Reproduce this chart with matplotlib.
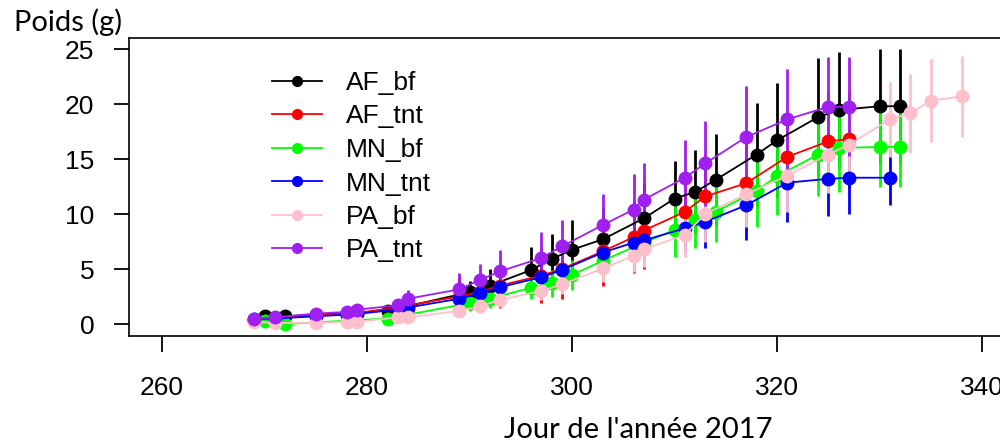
import numpy as np
import matplotlib.pyplot as plt
from matplotlib.lines import Line2D

# jours d'echantillonnage (deux calendriers)
jours_a = [270, 272, 282, 290, 292, 296, 298, 300, 303, 307, 310, 312, 314, 318, 320, 324, 326, 330, 332]
jours_b = [269, 271, 275, 278, 279, 283, 284, 289, 291, 293, 297, 299, 303, 306, 307, 311, 313, 317, 321, 325, 327]
jours_mn_tnt = jours_b + [331]
jours_pa_bf = jours_b + [331, 333, 335, 338]

# poids moyens (g) et ecarts-types
af_bf = [0.7, 0.7, 1.2, 2.9, 3.5, 4.9, 5.9, 6.75, 7.7, 9.6, 11.4, 12.0, 13.1, 15.4, 16.7, 18.8, 19.45, 19.8, 19.8]
af_bf_sd = [0.3, 0.3, 0.4, 1.0, 1.5, 2.1, 2.3, 2.7, 2.9, 3.2, 3.4, 3.8, 4.2, 4.7, 5.2, 5.4, 5.3, 5.2, 5.2]

af_tnt = [0.4, 0.55, 0.8, 0.95, 1.0, 1.5, 1.7, 2.5, 2.9, 3.5, 4.4, 5.0, 6.6, 7.9, 8.5, 10.2, 11.6, 12.8, 15.2, 16.6, 16.8]
af_tnt_sd = [0.2, 0.2, 0.3, 0.4, 0.4, 0.6, 0.7, 1.8, 1.7, 2.0, 2.5, 2.7, 3.1, 3.3, 3.5, 3.6, 3.8, 4.0, 4.2, 4.4, 4.4]

mn_bf = [0.3, 0.0, 0.5, 1.9, 2.3, 3.3, 3.7, 4.45, 5.75, 7.4, 8.55, 9.5, 10.2, 12.1, 13.45, 15.4, 16.0, 16.1, 16.1]
mn_bf_sd = [0.2, 0.3, 0.4, 0.7, 0.8, 1.0, 1.2, 1.4, 1.8, 2.2, 2.45, 2.6, 2.7, 3.25, 3.5, 3.8, 4.0, 3.6, 3.6]

mn_tnt = [0.45, 0.5, 0.7, 0.85, 0.9, 1.35, 1.5, 2.3, 2.8, 3.35, 4.25, 4.9, 6.5, 7.4, 7.6, 8.7, 9.3, 10.8, 12.85, 13.2, 13.3, 13.3]
mn_tnt_sd = [0.1, 0.1, 0.2, 0.2, 0.2, 0.3, 0.4, 0.6, 0.7, 0.8, 1.0, 1.2, 1.5, 1.8, 1.9, 2.1, 2.4, 3.2, 3.55, 3.4, 3.3, 2.5]

pa_bf = [0.2, 0.1, 0.1, 0.2, 0.2, 0.6, 0.6, 1.2, 1.6, 2.2, 3.0, 3.6, 5.05, 6.2, 6.8, 8.1, 10.0, 11.8, 13.5, 15.4, 16.3, 18.6, 19.15, 20.3, 20.7]
pa_bf_sd = [0.1, 0.1, 0.1, 0.1, 0.1, 0.2, 0.2, 0.4, 0.5, 0.6, 0.8, 0.9, 1.2, 1.45, 1.6, 2.0, 2.5, 3.0, 3.3, 3.5, 3.6, 3.4, 3.6, 3.75, 3.7]

pa_tnt = [0.5, 0.6, 0.95, 1.1, 1.3, 1.7, 2.3, 3.15, 4.0, 4.8, 6.0, 7.05, 9.0, 10.4, 11.3, 13.3, 14.6, 17.0, 18.6, 19.75, 19.75]
pa_tnt_sd = [0.15, 0.15, 0.2, 0.3, 0.3, 0.5, 0.8, 1.45, 1.5, 1.9, 2.4, 2.4, 2.8, 3.2, 3.3, 3.4, 3.9, 4.6, 4.6, 4.5, 4.5]

noms = ["AF_bf", "AF_tnt", "MN_bf", "MN_tnt", "PA_bf", "PA_tnt"]
couleurs = ["black", "#FF0000", "#00FF00", "#0000FF", "#FFC0CB", "#A020F0"]
series = [(jours_a, af_bf, af_bf_sd), (jours_b, af_tnt, af_tnt_sd),
          (jours_a, mn_bf, mn_bf_sd), (jours_mn_tnt, mn_tnt, mn_tnt_sd),
          (jours_pa_bf, pa_bf, pa_bf_sd), (jours_b, pa_tnt, pa_tnt_sd)]

plt.rcParams['font.family'] = ['Liberation Sans', 'DejaVu Sans']

fig = plt.figure(figsize=(10, 4.44), dpi=100)
ax = fig.add_axes([0.129, 108/444, 0.881, 298.3/444])

for (j, moy, sd), c in zip(series, couleurs):
    ax.errorbar(j, moy, yerr=sd, color=c, marker='o', ms=9, lw=1.3,
                elinewidth=2, capsize=0)

ax.set_xlim(256.78, 342.73)
ax.set_ylim(-1.09, 26.03)
ax.set_xticks([260, 280, 300, 320, 340])
ax.set_yticks([0, 5, 10, 15, 20, 25])
ax.tick_params(axis='y', length=11, width=1.3, pad=14, labelsize=19)
ax.tick_params(axis='x', length=11.5, width=1.3, pad=17, labelsize=19)
for s in ax.spines.values():
    s.set_linewidth(1.2)

poignees = [Line2D([0], [0], color=c, marker='o', ms=7, lw=1.3) for c in couleurs]
ax.legend(poignees, noms, loc='upper left', bbox_to_anchor=(0.272, 1 - 71/444),
          bbox_transform=fig.transFigure, frameon=False, fontsize=19,
          handlelength=1.9, handletextpad=0.9, labelspacing=0.36,
          borderpad=0, borderaxespad=0)

fig.text(0.014, 1 - 22/444, "Poids (g)", family='Lato', fontsize=21,
         ha='left', va='center')
fig.text(0.638, 1 - 430/444, "Jour de l'année 2017", family='Lato', fontsize=21,
         ha='center', va='center')

fig.savefig("out.png", dpi=100)
